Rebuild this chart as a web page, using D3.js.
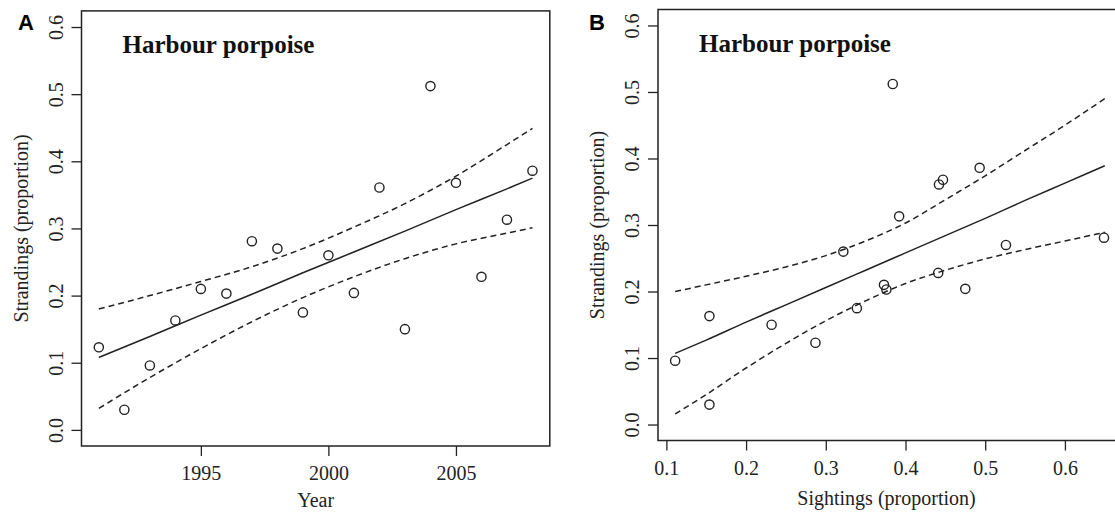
<!DOCTYPE html>
<html>
<head>
<meta charset="utf-8">
<script src="https://cdn.jsdelivr.net/npm/d3@7"></script>
<style>
  body { margin: 0; background: #fff; }
  svg { display: block; overflow: hidden; }
</style>
</head>
<body>
<div id="chart"></div>
<script>
// Data
const years = [1991, 1992, 1993, 1994, 1995, 1996, 1997, 1998, 1999, 2000, 2001, 2002, 2003, 2004, 2005, 2006, 2007, 2008];
const strandings = [0.123, 0.030, 0.096, 0.163, 0.210, 0.203, 0.281, 0.270, 0.175, 0.260, 0.204, 0.361, 0.150, 0.512, 0.368, 0.228, 0.313, 0.386];
const sightings = [0.287, 0.154, 0.111, 0.154, 0.373, 0.376, 0.649, 0.526, 0.339, 0.322, 0.475, 0.442, 0.232, 0.384, 0.447, 0.441, 0.392, 0.493];

// Fitted line and confidence band, panel A (by year)
const fitYears = [1991, 1993, 1995, 1997, 1999, 2001, 2003, 2005, 2007, 2008];
const fitA = [0.108, 0.139, 0.171, 0.202, 0.234, 0.265, 0.296, 0.328, 0.359, 0.375];
const upperA = [0.180, 0.200, 0.221, 0.243, 0.270, 0.302, 0.337, 0.378, 0.425, 0.449];
const lowerA = [0.032, 0.078, 0.121, 0.161, 0.197, 0.228, 0.255, 0.277, 0.293, 0.301];

// Fitted line and confidence band, panel B (by sightings)
const fitSight = [0.111, 0.15, 0.2, 0.25, 0.3, 0.35, 0.4, 0.45, 0.5, 0.55, 0.6, 0.65];
const fitB = [0.107, 0.127, 0.154, 0.180, 0.206, 0.232, 0.258, 0.284, 0.310, 0.337, 0.363, 0.389];
const upperB = [0.200, 0.210, 0.223, 0.237, 0.254, 0.276, 0.303, 0.338, 0.374, 0.412, 0.450, 0.490];
const lowerB = [0.016, 0.045, 0.085, 0.122, 0.156, 0.186, 0.212, 0.232, 0.249, 0.263, 0.276, 0.289];

// Tick values
const yTicks = [0, 0.1, 0.2, 0.3, 0.4, 0.5, 0.6];
const xTicksA = [1995, 2000, 2005];
const xTicksB = [0.1, 0.2, 0.3, 0.4, 0.5, 0.6];

const W = 1115, H = 512;
const serif = '"Liberation Serif", "Times New Roman", serif';
const ink = '#222';

const svg = d3.select('#chart')
  .append('svg')
  .attr('width', W)
  .attr('height', H);

function drawPanel(p) {
  const x = d3.scaleLinear().domain(p.xDomain).range([p.left, p.right]);
  const y = d3.scaleLinear().domain([-0.024, 0.624]).range([p.bottom, p.top]);
  const g = svg.append('g');

  // x axis
  const xg = g.append('g')
    .attr('transform', `translate(0,${p.bottom})`)
    .call(d3.axisBottom(x).tickValues(p.xTicks).tickFormat(p.xFormat).tickSize(10).tickPadding(10));
  xg.select('.domain').remove();
  xg.selectAll('line').attr('stroke', ink).attr('stroke-width', 1.3);
  xg.selectAll('text').style('font-family', serif).style('font-size', '20px').attr('fill', ink);

  // y axis, labels parallel to the axis
  const yg = g.append('g')
    .attr('transform', `translate(${p.left},0)`)
    .call(d3.axisLeft(y).tickValues(yTicks).tickFormat(d3.format('.1f')).tickSize(10));
  yg.select('.domain').remove();
  yg.selectAll('line').attr('stroke', ink).attr('stroke-width', 1.3);
  yg.selectAll('text')
    .attr('x', 0)
    .attr('y', -26)
    .attr('dy', '0.35em')
    .attr('transform', 'rotate(-90)')
    .attr('text-anchor', 'middle')
    .style('font-family', serif)
    .style('font-size', '20px')
    .attr('fill', ink);

  // box
  g.append('rect')
    .attr('x', p.left)
    .attr('y', p.top)
    .attr('width', p.right - p.left)
    .attr('height', p.bottom - p.top)
    .attr('fill', 'none')
    .attr('stroke', ink)
    .attr('stroke-width', 1.5);

  // axis titles
  g.append('text')
    .attr('x', (p.left + Math.min(p.right, W)) / 2)
    .attr('y', Math.min(p.bottom + 64, 507))
    .attr('text-anchor', 'middle')
    .style('font-family', serif)
    .style('font-size', '20px')
    .attr('fill', ink)
    .text(p.xTitle);

  g.append('text')
    .attr('transform', `translate(${p.left - 61},${(p.top + p.bottom) / 2}) rotate(-90)`)
    .attr('dy', '0.35em')
    .attr('text-anchor', 'middle')
    .style('font-family', serif)
    .style('font-size', '20px')
    .attr('fill', ink)
    .text('Strandings (proportion)');

  // panel letter and title
  g.append('text')
    .attr('x', p.labelX)
    .attr('y', 30)
    .style('font-family', '"Liberation Sans", Arial, sans-serif')
    .style('font-size', '22px')
    .style('font-weight', 'bold')
    .attr('fill', '#000')
    .text(p.label);

  g.append('text')
    .attr('x', p.left + 41)
    .attr('y', p.top + 42)
    .style('font-family', serif)
    .style('font-size', '25px')
    .style('font-weight', 'bold')
    .attr('fill', '#111')
    .text('Harbour porpoise');

  // fitted line and confidence limits
  const line = d3.line()
    .x(d => x(d[0]))
    .y(d => y(d[1]))
    .curve(d3.curveMonotoneX);

  g.append('path')
    .datum(d3.zip(p.fx, p.fit))
    .attr('d', line)
    .attr('fill', 'none')
    .attr('stroke', ink)
    .attr('stroke-width', 1.5);

  [p.upper, p.lower].forEach(band => {
    g.append('path')
      .datum(d3.zip(p.fx, band))
      .attr('d', line)
      .attr('fill', 'none')
      .attr('stroke', ink)
      .attr('stroke-width', 1.5)
      .attr('stroke-dasharray', '6,4');
  });

  // points
  g.selectAll('circle.pt')
    .data(d3.zip(p.px, strandings))
    .enter()
    .append('circle')
    .attr('class', 'pt')
    .attr('cx', d => x(d[0]))
    .attr('cy', d => y(d[1]))
    .attr('r', 4.6)
    .attr('fill', 'none')
    .attr('stroke', ink)
    .attr('stroke-width', 1.4);
}

drawPanel({
  label: 'A', labelX: 18,
  left: 81.5, right: 549.8, top: 10.9, bottom: 446,
  xDomain: [1990.32, 2008.68],
  xTicks: xTicksA, xFormat: d3.format('d'),
  xTitle: 'Year',
  px: years,
  fx: fitYears, fit: fitA, upper: upperA, lower: lowerA
});

drawPanel({
  label: 'B', labelX: 589,
  left: 658, right: 1122, top: 9.5, bottom: 440.5,
  xDomain: [0.0895, 0.6716],
  xTicks: xTicksB, xFormat: d3.format('.1f'),
  xTitle: 'Sightings (proportion)',
  px: sightings,
  fx: fitSight, fit: fitB, upper: upperB, lower: lowerB
});
</script>
</body>
</html>
